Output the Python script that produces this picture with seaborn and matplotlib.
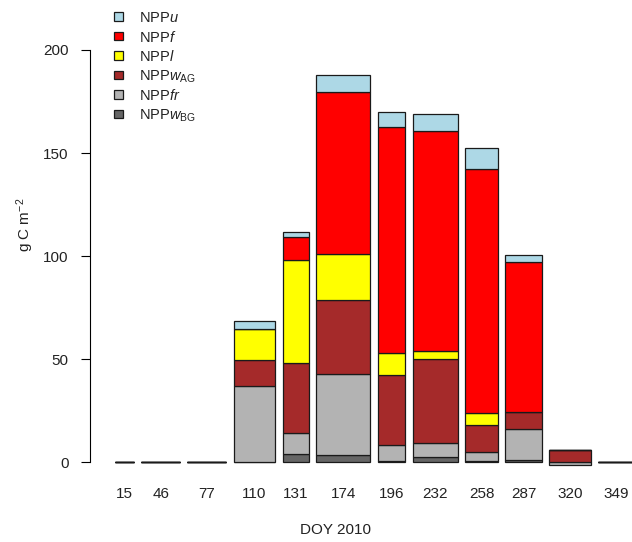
import numpy as np
import matplotlib
matplotlib.use("Agg")
import matplotlib.pyplot as plt
from matplotlib.patches import Rectangle
import seaborn as sns

# ---- data ----
doy = [15, 46, 77, 110, 131, 174, 196, 232, 258, 287, 320, 349]
npp_wBG = [0, 0, 0, 0.0, 4.0, 3.4, 0.5, 2.4, 0.5, 1.0, 0.0, 0]
npp_fr = [0, 0, 0, 37.0, 10.1, 39.5, 7.8, 6.8, 4.4, 15.3, -1.2, 0]
npp_wAG = [0, 0, 0, 12.5, 34.1, 35.9, 33.9, 40.8, 13.4, 8.0, 5.9, 0]
npp_l = [0, 0, 0, 15.1, 50.0, 22.3, 10.7, 3.9, 5.8, 0.0, 0.0, 0]
npp_f = [0, 0, 0, 0.0, 11.3, 78.5, 109.7, 106.6, 118.3, 72.9, 0.0, 0]
npp_u = [0, 0, 0, 4.0, 2.0, 8.3, 7.3, 8.4, 10.3, 3.3, 0.0, 0]

series = [
    (npp_wBG, "#666666", r"NPP$\mathit{w}_{\mathrm{BG}}$"),
    (npp_fr, "#B3B3B3", r"NPP$\mathit{fr}$"),
    (npp_wAG, "#A52A2A", r"NPP$\mathit{w}_{\mathrm{AG}}$"),
    (npp_l, "#FFFF00", r"NPP$\mathit{l}$"),
    (npp_f, "#FF0000", r"NPP$\mathit{f}$"),
    (npp_u, "#ADD8E6", r"NPP$\mathit{u}$"),
]

sns.set_style("white")
plt.rcParams["font.family"] = ["Liberation Sans", "DejaVu Sans"]
plt.rcParams["mathtext.fontset"] = "custom"
plt.rcParams["mathtext.rm"] = "Liberation Sans"
plt.rcParams["mathtext.it"] = "Liberation Sans:italic"
plt.rcParams["mathtext.bf"] = "Liberation Sans:bold"

W, H = 632, 542
fig = plt.figure(figsize=(W / 100, H / 100), dpi=100)

def fx(px):
    return px / W

def fy(py):
    return 1 - py / H

# bar widths proportional to sampling interval (R barplot style)
widths = np.diff(np.concatenate([[0], doy])).astype(float)
space = 0.2 * widths.mean()
lefts = space * np.arange(1, len(doy) + 1) + np.concatenate([[0], np.cumsum(widths)[:-1]])
centers = lefts + widths / 2

# axes geometry
scale = 1.2574  # px per x unit
x_lo = lefts[0] - (115 - 90) / scale
x_hi = lefts[0] + (640 - 115) / scale
y_lo, y_hi = -8, 208
ppu = (462.3 - 50.0) / 200
ax_bottom_px = 462.3 + 8 * ppu
ax_top_px = 50.0 - 8 * ppu
ax = fig.add_axes([fx(90), fy(ax_bottom_px), fx(640) - fx(90), (ax_bottom_px - ax_top_px) / H])
ax.set_xlim(x_lo, x_hi)
ax.set_ylim(y_lo, y_hi)

pos_bottom = np.zeros(len(doy))
neg_bottom = np.zeros(len(doy))
for vals, col, lab in series:
    v = np.array(vals, dtype=float)
    base = np.where(v >= 0, pos_bottom, neg_bottom)
    ax.bar(centers, v, width=widths, bottom=base, color=col,
           edgecolor="#1a1a1a", linewidth=0.9, align="center", label=lab,
           clip_on=False)
    pos_bottom = pos_bottom + np.where(v >= 0, v, 0)
    neg_bottom = neg_bottom + np.where(v < 0, v, 0)

for s in ["top", "right", "bottom"]:
    ax.spines[s].set_visible(False)
ax.spines["left"].set_bounds(0, 200)
ax.spines["left"].set_color("black")
ax.spines["left"].set_linewidth(0.8)

ax.set_yticks([0, 50, 100, 150, 200])
ax.set_yticklabels(["0", "50", "100", "150", "200"])
ax.tick_params(axis="y", direction="out", length=6.5, width=0.8, color="black",
               pad=9, labelsize=11, labelcolor="#222222", left=True)
ax.set_xticks(centers)
ax.set_xticklabels([str(d) for d in doy])
ax.tick_params(axis="x", length=0, pad=6, labelsize=11, labelcolor="#222222")
ax.grid(False)

fig.text(fx(25), fy(225), r"g C m$^{-2}$", rotation=90, ha="center", va="center",
         fontsize=11, color="#222222")
fig.text(fx(336), fy(529.5), "DOY 2010", ha="center", va="center", fontsize=11,
         color="#222222")

# legend (top to bottom: u, f, l, wAG, fr, wBG)
leg_y = [17, 36.5, 56, 75.5, 95, 114.5]
for (vals, col, lab), yy in zip(series[::-1], leg_y):
    fig.patches.append(Rectangle((fx(113.5), fy(yy + 3.5)), 9 / W, 8 / H,
                                 transform=fig.transFigure, facecolor=col,
                                 edgecolor="#1a1a1a", linewidth=0.9))
    fig.text(fx(139), fy(yy + 5), lab, ha="left", va="baseline", fontsize=10.5,
             color="#222222")

fig.savefig("out.png", dpi=100)
